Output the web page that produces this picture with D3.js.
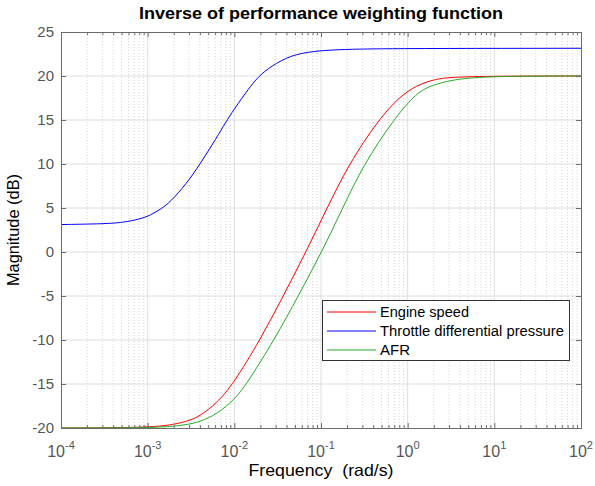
<!DOCTYPE html>
<html>
<head>
<meta charset="utf-8">
<script src="https://cdn.jsdelivr.net/npm/d3@7"></script>
<style>
body { margin: 0; background: #fff; }
text { font-family: "Liberation Sans", Arial, sans-serif; }
</style>
</head>
<body>
<div class="chart"></div>
<script>
// values (frequency in rad/s, magnitude in dB)
const engineFreq = [1e-4, 1e-3, 2.0e-3, 3.1e-3, 4.0e-3, 6.25e-3, 9.7e-3, 1.98e-2, 3.67e-2, 6.7e-2, 0.1175, 0.21, 0.458, 0.815, 1.27, 1.98, 3.08, 10, 100];
const engineMag  = [-20, -19.96, -19.62, -19.13, -18.64, -17.2, -15, -10, -5, 0, 5, 10, 15, 17.7, 18.92, 19.6, 19.87, 19.99, 20];

const throttleFreq = [1e-4, 3.16e-4, 5.2e-4, 8.1e-4, 1.07e-3, 1.45e-3, 1.81e-3, 2.8e-3, 4.0e-3, 6.3e-3, 7.9e-3, 9.8e-3, 1.5e-2, 1.81e-2, 2.35e-2, 4.0e-2, 6.8e-2, 0.166, 1, 100];
const throttleMag  = [3.12, 3.2, 3.35, 3.74, 4.15, 4.95, 5.65, 7.75, 9.95, 13.05, 14.7, 16.15, 18.7, 19.7, 20.75, 22.15, 22.75, 23.05, 23.13, 23.15];

const afrFreq = [1e-4, 1e-3, 2.0e-3, 3.1e-3, 4.0e-3, 6.25e-3, 1.0e-2, 1.39e-2, 2.94e-2, 5.47e-2, 0.102, 0.178, 0.308, 0.683, 1.27, 1.98, 3.08, 5.6, 16, 100];
const afrMag  = [-20, -19.98, -19.82, -19.55, -19.28, -18.45, -16.78, -15, -9.85, -5, 0, 5, 9.9, 15, 18.16, 19.0, 19.49, 19.85, 19.98, 20];

const seriesNames = ["Engine speed", "Throttle differential pressure", "AFR"];
const seriesColors = ["#ff0000", "#0000ff", "#22aa22"];
const xTickExp = [-4, -3, -2, -1, 0, 1, 2];
const yTicks = [-20, -15, -10, -5, 0, 5, 10, 15, 20, 25];

const series = [
  engineFreq.map((f, i) => ({f: f, m: engineMag[i]})),
  throttleFreq.map((f, i) => ({f: f, m: throttleMag[i]})),
  afrFreq.map((f, i) => ({f: f, m: afrMag[i]}))
];

const W = 595, H = 486;
const margin = {top: 32, right: 14, bottom: 58, left: 61};
const width = W - margin.left - margin.right;
const height = H - margin.top - margin.bottom;

const root = d3.select(".chart").append("svg")
  .attr("width", W)
  .attr("height", H);

const svg = root.append("g")
  .attr("transform", `translate(${margin.left},${margin.top})`);

const xScale = d3.scaleLog().domain([1e-4, 1e2]).range([0, width]);
const yScale = d3.scaleLinear().domain([-20, 25]).range([height, 0]);

const majorX = xTickExp.map(e => Math.pow(10, e));
const minorX = [];
xTickExp.slice(0, -1).forEach(e => {
  for (let k = 2; k <= 9; k++) minorX.push(k * Math.pow(10, e));
});

// minor grid (dotted)
svg.append("g").selectAll("line")
  .data(minorX).enter().append("line")
  .attr("x1", d => xScale(d)).attr("x2", d => xScale(d))
  .attr("y1", 0).attr("y2", height)
  .attr("stroke", "#d4d4d4")
  .attr("stroke-dasharray", "1,2");

// major grid
svg.append("g").selectAll("line")
  .data(majorX.slice(1, -1)).enter().append("line")
  .attr("x1", d => xScale(d)).attr("x2", d => xScale(d))
  .attr("y1", 0).attr("y2", height)
  .attr("stroke", "#dedede");

svg.append("g").selectAll("line")
  .data(yTicks.slice(1, -1)).enter().append("line")
  .attr("x1", 0).attr("x2", width)
  .attr("y1", d => yScale(d)).attr("y2", d => yScale(d))
  .attr("stroke", "#dedede");

// curves (B-spline through the read points to smooth out reading noise)
const line = d3.line()
  .x(d => xScale(d.f))
  .y(d => yScale(d.m))
  .curve(d3.curveBasis);

svg.append("g").selectAll("path")
  .data(series).enter().append("path")
  .attr("d", line)
  .attr("fill", "none")
  .attr("stroke", (d, i) => seriesColors[i])
  .attr("stroke-width", 1);

// axes with inward ticks, box on
const axisColor = "#6b6b6b";
function styleAxis(g) {
  g.selectAll(".domain").attr("stroke", axisColor);
  g.selectAll(".tick line").attr("stroke", axisColor);
  g.selectAll(".tick text").remove();
}

svg.append("g").attr("class", "x-axis")
  .attr("transform", `translate(0,${height})`)
  .call(d3.axisBottom(xScale).tickValues(majorX).tickSizeInner(-5).tickSizeOuter(0).tickFormat(""))
  .call(styleAxis);
svg.append("g")
  .attr("transform", `translate(0,${height})`)
  .call(d3.axisBottom(xScale).tickValues(minorX).tickSizeInner(-3).tickSizeOuter(0).tickFormat(""))
  .call(styleAxis);
svg.append("g")
  .call(d3.axisTop(xScale).tickValues(majorX).tickSizeInner(-5).tickSizeOuter(0).tickFormat(""))
  .call(styleAxis);
svg.append("g")
  .call(d3.axisTop(xScale).tickValues(minorX).tickSizeInner(-3).tickSizeOuter(0).tickFormat(""))
  .call(styleAxis);
svg.append("g").attr("class", "y-axis")
  .call(d3.axisLeft(yScale).tickValues(yTicks).tickSizeInner(-5).tickSizeOuter(0).tickFormat(""))
  .call(styleAxis);
svg.append("g")
  .attr("transform", `translate(${width},0)`)
  .call(d3.axisRight(yScale).tickValues(yTicks).tickSizeInner(-5).tickSizeOuter(0).tickFormat(""))
  .call(styleAxis);

// tick labels
const labelColor = "#555555";
svg.append("g").selectAll("text")
  .data(yTicks).enter().append("text")
  .attr("x", -7)
  .attr("y", d => yScale(d))
  .attr("dy", "0.35em")
  .attr("text-anchor", "end")
  .attr("font-size", "15px")
  .attr("fill", labelColor)
  .text(d => d);

const xl = svg.append("g").selectAll("text")
  .data(xTickExp).enter().append("text")
  .attr("x", d => xScale(Math.pow(10, d)))
  .attr("y", height + 28.5)
  .attr("text-anchor", "middle")
  .attr("font-size", "16px")
  .attr("fill", labelColor);
xl.append("tspan").text("10");
xl.append("tspan")
  .attr("font-size", "11px")
  .attr("dy", "-8")
  .text(d => d);

// axis titles
svg.append("text")
  .attr("x", width / 2)
  .attr("y", height + 48)
  .attr("text-anchor", "middle")
  .attr("font-size", "16.5px")
  .attr("fill", "#000")
  .attr("textLength", 145)
  .attr("lengthAdjust", "spacingAndGlyphs")
  .style("white-space", "pre")
  .text("Frequency  (rad/s)");

svg.append("text")
  .attr("transform", `translate(-42,${height / 2}) rotate(-90)`)
  .attr("text-anchor", "middle")
  .attr("font-size", "16.4px")
  .attr("fill", "#000")
  .text("Magnitude (dB)");

svg.append("text")
  .attr("x", width / 2)
  .attr("y", -13)
  .attr("text-anchor", "middle")
  .attr("font-size", "16.3px")
  .attr("font-weight", "bold")
  .attr("fill", "#000")
  .attr("textLength", 364)
  .attr("lengthAdjust", "spacingAndGlyphs")
  .text("Inverse of performance weighting function");

// legend
const legendWidths = [89, 184, 30];
const legend = svg.append("g")
  .attr("transform", `translate(${322.5 - margin.left},${300.5 - margin.top})`);
legend.append("rect")
  .attr("width", 247).attr("height", 60)
  .attr("fill", "#fff")
  .attr("stroke", "#333")
  .attr("stroke-width", 1);
const items = legend.selectAll("g.item")
  .data(seriesNames).enter().append("g")
  .attr("class", "item")
  .attr("transform", (d, i) => `translate(0,${11.5 + i * 19})`);
items.append("line")
  .attr("x1", 4.5).attr("x2", 53.5)
  .attr("stroke", (d, i) => seriesColors[i])
  .attr("stroke-width", 1);
items.append("text")
  .attr("x", 57.5)
  .attr("dy", "0.36em")
  .attr("font-size", "14px")
  .attr("fill", "#000")
  .attr("textLength", (d, i) => legendWidths[i])
  .attr("lengthAdjust", "spacingAndGlyphs")
  .text(d => d);
</script>
</body>
</html>
